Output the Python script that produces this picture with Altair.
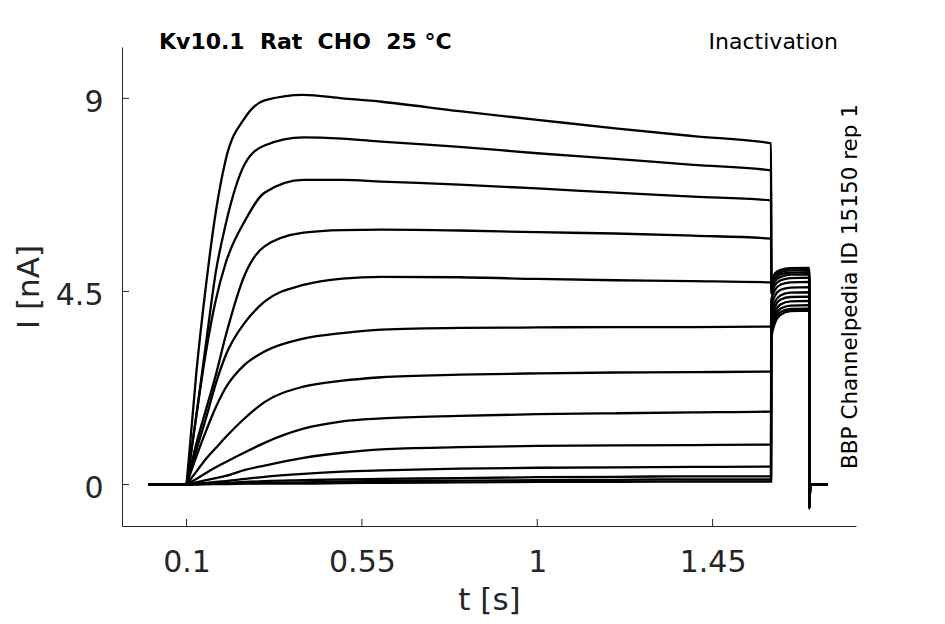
import altair as alt
import pandas as pd

# ---- time grid of the test step (s) ----
STEP_T = [0.003, 0.1, 0.125, 0.15, 0.175, 0.2, 0.25, 0.3, 0.4, 0.5, 0.6, 0.8, 1.0, 1.2, 1.4, 1.6]

# ---- current during the step (nA), one list per sweep ----
TRACE_1 = [0, 0, 2.6, 4.65, 6.35, 7.55, 8.55, 8.95, 9.08, 9.0, 8.92, 8.70, 8.50, 8.30, 8.12, 7.95]
TRACE_2 = [0, 0, 1.6, 3.3, 4.95, 6.05, 7.48, 7.9, 8.09, 8.06, 7.99, 7.87, 7.72, 7.59, 7.45, 7.32]
TRACE_3 = [0, 0, 1.6, 3.1, 4.3, 5.15, 6.15, 6.8, 7.1, 7.1, 7.06, 6.99, 6.9, 6.8, 6.71, 6.62]
TRACE_4 = [0, 0, 0.95, 1.75, 2.55, 3.45, 4.9, 5.55, 5.87, 5.93, 5.94, 5.92, 5.88, 5.85, 5.8, 5.73]
TRACE_5 = [0, 0, 0.8, 1.55, 2.35, 3.0, 3.78, 4.26, 4.65, 4.8, 4.84, 4.83, 4.79, 4.76, 4.74, 4.71]
TRACE_6 = [0, 0, 0.65, 1.25, 1.8, 2.25, 2.8, 3.1, 3.4, 3.53, 3.61, 3.65, 3.66, 3.67, 3.67, 3.68]
TRACE_7 = [0, 0, 0.3, 0.6, 0.85, 1.1, 1.55, 1.92, 2.28, 2.42, 2.5, 2.56, 2.59, 2.61, 2.62, 2.63]
TRACE_8 = [0, 0, 0.13, 0.27, 0.4, 0.52, 0.75, 0.97, 1.3, 1.47, 1.54, 1.6, 1.64, 1.66, 1.68, 1.70]
TRACE_9 = [0, 0, 0.05, 0.1, 0.15, 0.2, 0.34, 0.44, 0.62, 0.74, 0.82, 0.87, 0.9, 0.91, 0.92, 0.93]
TRACE_10 = [0, 0, 0.02, 0.04, 0.06, 0.08, 0.13, 0.18, 0.25, 0.3, 0.33, 0.37, 0.39, 0.4, 0.41, 0.42]
TRACE_11 = [0, 0, 0.01, 0.02, 0.03, 0.04, 0.06, 0.08, 0.1, 0.12, 0.13, 0.15, 0.17, 0.18, 0.19, 0.19]
TRACE_12 = [0, 0, 0.01, 0.01, 0.02, 0.03, 0.03, 0.04, 0.05, 0.07, 0.08, 0.09, 0.1, 0.11, 0.12, 0.12]
TRACE_13 = [0, 0, 0.0, 0.01, 0.01, 0.01, 0.02, 0.02, 0.02, 0.03, 0.04, 0.05, 0.06, 0.06, 0.07, 0.07]

# ---- tail after the step ----
TAIL_T = [1.6005, 1.61, 1.625, 1.65, 1.698]
TAIL_1 = [4.75, 4.92, 5.0, 5.04, 5.05]
TAIL_2 = [4.7, 4.87, 4.95, 4.99, 5.0]
TAIL_3 = [4.62, 4.8, 4.9, 4.94, 4.95]
TAIL_4 = [4.55, 4.74, 4.84, 4.89, 4.9]
TAIL_5 = [4.45, 4.65, 4.76, 4.81, 4.82]
TAIL_6 = [4.3, 4.53, 4.66, 4.71, 4.72]
TAIL_7 = [4.15, 4.4, 4.54, 4.59, 4.6]
TAIL_8 = [4.0, 4.26, 4.41, 4.47, 4.48]
TAIL_9 = [3.85, 4.14, 4.31, 4.37, 4.38]
TAIL_10 = [3.7, 4.02, 4.2, 4.27, 4.28]
TAIL_11 = [3.6, 3.92, 4.1, 4.17, 4.18]
TAIL_12 = [3.5, 3.83, 4.02, 4.09, 4.1]
TAIL_13 = [3.4, 3.76, 3.96, 4.04, 4.05]

# ---- return to holding ----
END_T = [1.6985, 1.7005, 1.746]
END_V = [-0.55, 0.0, 0.0]

STEPS = [TRACE_1, TRACE_2, TRACE_3, TRACE_4, TRACE_5, TRACE_6, TRACE_7,
         TRACE_8, TRACE_9, TRACE_10, TRACE_11, TRACE_12, TRACE_13]
TAILS = [TAIL_1, TAIL_2, TAIL_3, TAIL_4, TAIL_5, TAIL_6, TAIL_7,
         TAIL_8, TAIL_9, TAIL_10, TAIL_11, TAIL_12, TAIL_13]

XTICKS = [0.1, 0.55, 1, 1.45]
YTICKS = [0, 4.5, 9]
X_DOMAIN = [-0.0657, 1.818]
Y_DOMAIN = [-0.967, 10.196]

NB = "\u00a0"
TITLE = f"Kv10.1{NB} Rat{NB} CHO{NB} 25 °C"
PROTOCOL = "Inactivation"
SOURCE = "BBP Channelpedia ID 15150 rep 1"

# holding segment (before the step, drawn straight) and the rest (smooth)
hold_rows, rows = [], []
for k, (step, tail) in enumerate(zip(STEPS, TAILS)):
    ts = STEP_T + TAIL_T + END_T
    vs = step + tail + END_V
    for i, (t, v) in enumerate(zip(ts, vs)):
        if i <= 1:
            hold_rows.append({"trace": k, "idx": i, "t": t, "v": v})
        if i >= 1:
            rows.append({"trace": k, "idx": i, "t": t, "v": v})
df_hold = pd.DataFrame(hold_rows)
df = pd.DataFrame(rows)

W, H = 734, 479
GREY = "#262626"
FONT = "DejaVu Sans"

xscale = alt.Scale(domain=X_DOMAIN, nice=False, zero=False)
yscale = alt.Scale(domain=Y_DOMAIN, nice=False, zero=False)

LBL = "'' + datum.value"
xaxis = alt.Axis(values=XTICKS, labelExpr=LBL, title="t [s]", grid=False,
                 ticks=False, tickSize=0, labelPadding=21, labelFontSize=30,
                 labelFont=FONT, labelColor=GREY, domainColor=GREY, domainWidth=1,
                 titleFont=FONT, titleFontSize=31, titleFontWeight="normal",
                 titleColor=GREY, titleBaseline="alphabetic", titleY=83, titleX=W / 2,
                 labelFlush=False, labelOverlap=False)
yaxis = alt.Axis(values=YTICKS, labelExpr=LBL, title="I [nA]", grid=False,
                 ticks=False, tickSize=0, labelPadding=19, labelFontSize=30,
                 labelFont=FONT, labelColor=GREY, domainColor=GREY, domainWidth=1,
                 labelOffset=4, titleFont=FONT, titleFontSize=31,
                 titleFontWeight="normal", titleColor=GREY, titleAngle=270,
                 titleBaseline="alphabetic", titleX=-84, titleY=H / 2,
                 labelFlush=False, labelOverlap=False)

hold = alt.Chart(df_hold).mark_line(color="black", strokeWidth=2.6).encode(
    x=alt.X("t:Q", scale=xscale, axis=xaxis),
    y=alt.Y("v:Q", scale=yscale, axis=yaxis),
    detail="trace:N",
    order="idx:Q",
)
lines = alt.Chart(df).mark_line(color="black", strokeWidth=2.3, interpolate="monotone").encode(
    x=alt.X("t:Q", scale=xscale, axis=xaxis),
    y=alt.Y("v:Q", scale=yscale, axis=yaxis),
    detail="trace:N",
    order="idx:Q",
)

xtick_marks = alt.Chart(pd.DataFrame({"t": XTICKS})).mark_rule(
    color=GREY, strokeWidth=1).encode(
    x=alt.X("t:Q", scale=xscale, axis=xaxis),
    y=alt.value(H), y2=alt.value(H - 7),
)
ytick_marks = alt.Chart(pd.DataFrame({"v": YTICKS})).mark_rule(
    color=GREY, strokeWidth=1).encode(
    y=alt.Y("v:Q", scale=yscale, axis=yaxis),
    x=alt.value(0), x2=alt.value(7),
)

title_txt = alt.Chart(pd.DataFrame({"s": [TITLE]})).mark_text(
    font=FONT, fontSize=22, fontWeight="bold", color="black",
    align="left", baseline="alphabetic").encode(
    text="s:N", x=alt.value(37), y=alt.value(1.5))
proto_txt = alt.Chart(pd.DataFrame({"s": [PROTOCOL]})).mark_text(
    font=FONT, fontSize=22, color="black",
    align="right", baseline="alphabetic").encode(
    text="s:N", x=alt.value(716), y=alt.value(1.5))
source_txt = alt.Chart(pd.DataFrame({"s": [SOURCE]})).mark_text(
    font=FONT, fontSize=21.5, color="black", angle=270,
    align="center", baseline="alphabetic").encode(
    text="s:N", x=alt.value(W + 1), y=alt.value(H / 2))

chart = alt.layer(hold, lines, xtick_marks, ytick_marks, title_txt, proto_txt,
                  source_txt).properties(
    width=W, height=H,
    autosize=alt.AutoSizeParams(type="none"),
    padding={"left": 114, "top": 39, "right": 80, "bottom": 90},
    background="white",
).configure_view(strokeWidth=0)

chart.save("out.html", embed_options={"renderer": "svg", "actions": False})
